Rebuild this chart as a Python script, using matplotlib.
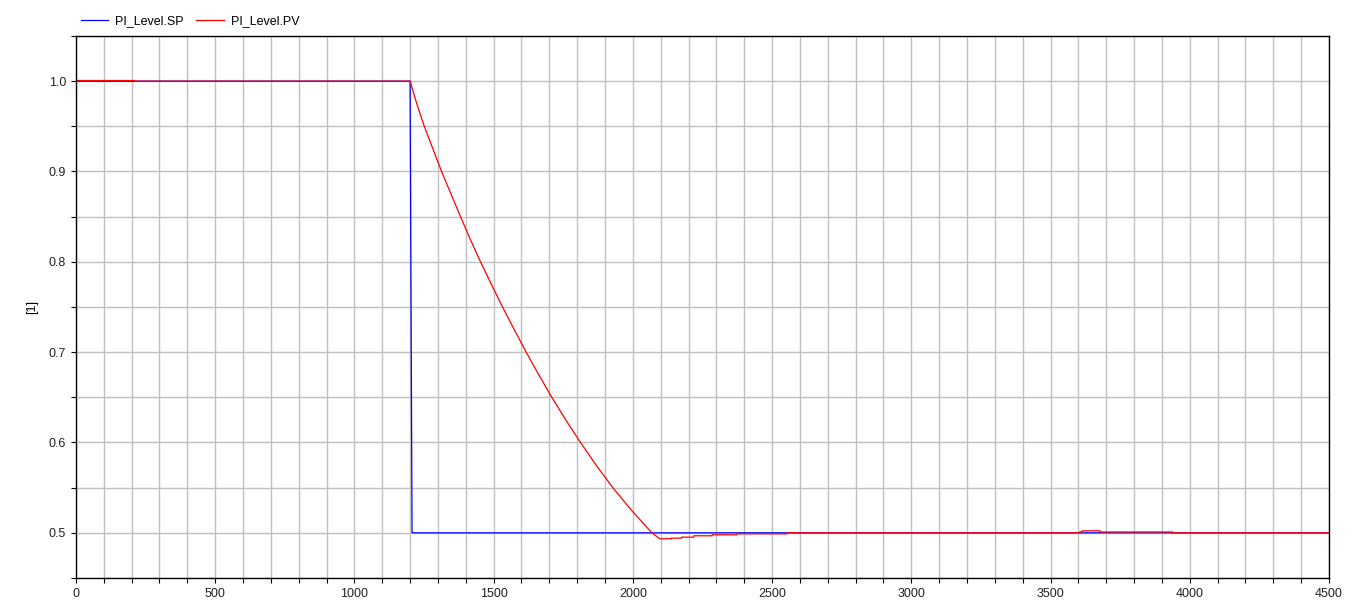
import matplotlib
matplotlib.use("Agg")
import matplotlib.pyplot as plt
from matplotlib.ticker import MultipleLocator, FormatStrFormatter

plt.rcParams['font.family'] = ['Liberation Sans', 'DejaVu Sans']
plt.rcParams['font.size'] = 9

# setpoint
sp_time = [0, 1200, 1207, 4500]
sp_value = [1.0, 1.0, 0.5, 0.5]

# process value
pv_time = [0, 210, 210, 1200, 1224, 1251, 1282, 1313, 1347, 1381, 1416, 1453, 1492, 1532,
           1574, 1617, 1662, 1709, 1759, 1812, 1868, 1928, 1995, 2068,
           2097, 2139, 2139, 2175, 2175, 2219, 2219, 2285, 2285, 2373, 2373, 2553, 2553,
           3605, 3605, 3614, 3614, 3678, 3678, 3939, 3939, 4500]
pv_value = [1.0007, 1.0007, 1.0, 1.0, 0.975, 0.95, 0.925, 0.9, 0.875, 0.85, 0.825, 0.8, 0.775, 0.75,
            0.725, 0.7, 0.675, 0.65, 0.625, 0.6, 0.575, 0.55, 0.525, 0.5,
            0.4934, 0.4934, 0.4941, 0.4941, 0.4952, 0.4952, 0.4967, 0.4967, 0.4978, 0.4978, 0.4989, 0.4989, 0.5,
            0.5, 0.5011, 0.5011, 0.5022, 0.5022, 0.5009, 0.5009, 0.5, 0.5]

fig = plt.figure(figsize=(13.54, 6.03), dpi=100)
ax = fig.add_axes([0.0561, 0.0415, 0.9254, 0.8988])

ax.plot(sp_time, sp_value, color='#0000ff', lw=0.9, label='PI_Level.SP')
ax.plot(pv_time, pv_value, color='#ff0000', lw=0.9, label='PI_Level.PV')

ax.set_xlim(0, 4500)
ax.set_ylim(0.45, 1.05)
ax.xaxis.set_major_locator(MultipleLocator(500))
ax.xaxis.set_minor_locator(MultipleLocator(100))
ax.yaxis.set_major_locator(MultipleLocator(0.1))
ax.yaxis.set_minor_locator(MultipleLocator(0.05))
ax.yaxis.set_major_formatter(FormatStrFormatter('%.1f'))
ax.grid(True, which='both', color='#c0c0c0', lw=1.0)
ax.set_axisbelow(True)
ax.tick_params(which='both', direction='out', length=3.5, width=0.8, colors='black',
               labelcolor='#222222')
for s in ax.spines.values():
    s.set_linewidth(1.0)

ax.set_ylabel('[1]')
ax.yaxis.set_label_coords(-0.030, 0.5)

ax.legend(loc='lower left', bbox_to_anchor=(-0.003, 1.0), ncol=2, frameon=False,
          handlelength=2.2, handletextpad=0.55, columnspacing=1.0, borderaxespad=0.3)

fig.savefig('out.png', dpi=100)
